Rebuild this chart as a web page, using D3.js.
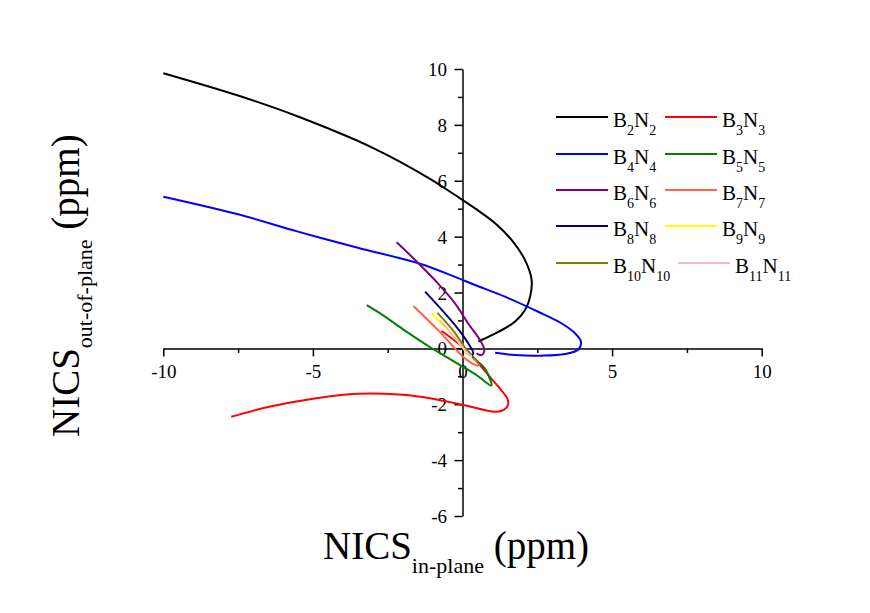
<!DOCTYPE html>
<html>
<head>
<meta charset="utf-8">
<script src="https://cdn.jsdelivr.net/npm/d3@7"></script>
<style>
  body { margin: 0; background: #fff; }
  text { font-family: "Liberation Serif", "Times New Roman", serif; }
</style>
</head>
<body>
<svg id="chart" width="870" height="613"></svg>
<script>
// series names (subscript n for BnNn) and colours
const sizes = [2, 3, 4, 5, 6, 7, 8, 9, 10, 11];
const colors = ["#000000", "#ff0000", "#0000ff", "#008000", "#800080",
                "#ff6347", "#000080", "#ffff00", "#808000", "#ffb6c1"];

// [NICS in-plane, NICS out-of-plane]
const b2n2 = [[-10, 9.85], [-7.5, 9.05], [-5.5, 8.3], [-3, 7.18], [-1.1, 6.08], [-0.25, 5.49],
              [0.42, 5.01], [1.09, 4.48], [1.64, 3.88], [2.09, 3.16], [2.31, 2.45], [2.26, 1.85],
              [2.09, 1.37], [1.75, 0.95], [1.2, 0.59], [0.64, 0.3], [0.53, 0.24]];
const b3n3 = [[-7.73, -2.45], [-6.5, -2.1], [-5, -1.8], [-3.5, -1.62], [-2, -1.66], [-1, -1.8],
              [0, -2.02], [0.7, -2.2], [1.1, -2.27], [1.38, -2.2], [1.52, -2.03], [1.5, -1.8],
              [1.3, -1.5], [0.9, -1.0], [0.5, -0.5], [0.0, 0.05], [-0.7, 0.62]];
const b4n4 = [[-10, 5.43], [-7.5, 4.8], [-5.5, 4.18], [-3.5, 3.6], [-1.42, 3.03], [-0.25, 2.56],
              [0.42, 2.27], [1.42, 1.85], [2.53, 1.31], [3.32, 0.89], [3.76, 0.54], [3.96, 0.24],
              [3.87, -0.04], [3.43, -0.2], [2.65, -0.26], [1.75, -0.24], [1.09, -0.16]];
const b5n5 = [[-3.2, 1.55], [-2.75, 1.25], [-1.9, 0.62], [-1.09, 0.05], [-0.5, -0.33], [0.03, -0.67],
              [0.5, -0.98], [0.97, -1.33], [0.9, -1.05], [0.75, -0.72], [0.47, -0.43], [0.2, -0.15]];
const b6n6 = [[-2.2, 3.8], [-1.59, 3.17], [-0.8, 2.3], [-0.25, 1.61], [0.19, 0.89], [0.58, 0.3],
              [0.73, -0.06], [0.64, -0.24], [0.47, -0.18]];
const b7n7 = [[-1.64, 1.52], [-0.75, 0.58], [0.0, -0.28], [0.4, -0.58], [0.55, -0.6], [0.35, -0.35]];
const b8n8 = [[-1.25, 2.03], [-0.25, 0.83], [0.19, 0.18], [0.36, -0.18], [0.28, -0.25], [0.15, -0.1]];
const b9n9 = [[-1.03, 1.25], [-0.4, 0.55], [0.1, -0.05], [0.3, -0.28], [0.2, -0.24]];
const b10n10 = [[-0.84, 1.27], [-0.3, 0.62], [0.14, -0.05], [0.28, -0.2], [0.15, -0.15]];
const b11n11 = [[-0.75, 1.0], [-0.3, 0.45], [0.1, -0.1], [0.25, -0.25], [0.1, -0.15]];
const series = [b2n2, b3n3, b4n4, b5n5, b6n6, b7n7, b8n8, b9n9, b10n10, b11n11];

const xMajor = [-10, -5, 0, 5, 10];
const xMinor = [-7.5, -2.5, 2.5, 7.5];
const yMajor = [-6, -4, -2, 0, 2, 4, 6, 8, 10];
const yMinor = [-5, -3, -1, 1, 3, 5, 7, 9];

const svg = d3.select("#chart");

const xScale = d3.scaleLinear().domain([-10, 10]).range([163.3, 761.7]);
const yScale = d3.scaleLinear().domain([-6, 10]).range([516, 69]);

const fmt = d => String(d); // plain hyphen minus like the original

// axes cross at the origin
const xAxisG = svg.append("g")
    .attr("transform", `translate(0, ${yScale(0)})`)
    .call(d3.axisBottom(xScale).tickValues(xMajor).tickSize(8).tickSizeOuter(0).tickFormat(fmt));
xAxisG.append("g")
    .call(d3.axisBottom(xScale).tickValues(xMinor).tickSize(4.5).tickFormat(""))
    .select(".domain").remove();

const yAxisG = svg.append("g")
    .attr("transform", `translate(${xScale(0)}, 0)`)
    .call(d3.axisLeft(yScale).tickValues(yMajor).tickSize(8).tickSizeOuter(0).tickFormat(fmt));
yAxisG.append("g")
    .call(d3.axisLeft(yScale).tickValues(yMinor).tickSize(4.5).tickFormat(""))
    .select(".domain").remove();

svg.selectAll(".domain").attr("stroke", "#000").attr("stroke-width", 1.5);
svg.selectAll(".tick line").attr("stroke", "#000").attr("stroke-width", 1.5);

xAxisG.selectAll(".tick text")
    .attr("y", 30).attr("dy", 0)
    .style("font-family", "'Liberation Serif', serif").style("font-size", "19px")
    .attr("fill", "#000");
yAxisG.selectAll(".tick text")
    .attr("x", -15.5).attr("dy", 6.5)
    .style("font-family", "'Liberation Serif', serif").style("font-size", "19px")
    .attr("fill", "#000");

// curves
const line = d3.line()
    .x(d => xScale(d[0]))
    .y(d => yScale(d[1]))
    .curve(d3.curveCatmullRom.alpha(0.5));

svg.append("g")
    .selectAll("path")
    .data(series)
    .join("path")
        .attr("d", line)
        .attr("fill", "none")
        .attr("stroke", (d, i) => colors[i])
        .attr("stroke-width", 2);

// legend, two columns
const legendRows = [117, 154, 190, 226, 263];
const legendItems = sizes.map((n, i) => {
    const row = Math.floor(i / 2), col = i % 2;
    const x0 = col === 0 ? 556 : (row === 4 ? 678 : 665);
    return { n, color: colors[i], x0, y: legendRows[row] };
});

const legend = svg.append("g")
    .selectAll("g")
    .data(legendItems)
    .join("g");

legend.append("line")
    .attr("x1", d => d.x0)
    .attr("x2", d => d.x0 + 52)
    .attr("y1", d => d.y)
    .attr("y2", d => d.y)
    .attr("stroke", d => d.color)
    .attr("stroke-width", 2);

const legendText = legend.append("text")
    .attr("x", d => d.x0 + 57)
    .attr("y", d => d.y + 9.5)
    .attr("font-size", 21)
    .attr("fill", "#000");
legendText.append("tspan").text("B");
legendText.append("tspan").text(d => d.n).attr("font-size", 14).attr("dy", 8);
legendText.append("tspan").text("N").attr("dy", -8);
legendText.append("tspan").text(d => d.n).attr("font-size", 14).attr("dy", 8);

// axis titles
const xTitle = svg.append("text")
    .attr("x", 323)
    .attr("y", 559)
    .attr("font-size", 39)
    .attr("fill", "#000");
xTitle.append("tspan").text("NICS");
xTitle.append("tspan").text("in-plane").attr("font-size", 22).attr("dy", 14);
xTitle.append("tspan").text(" (ppm)").attr("dy", -14);

const yTitle = svg.append("text")
    .attr("transform", "translate(79, 437) rotate(-90)")
    .attr("font-size", 39)
    .attr("fill", "#000");
yTitle.append("tspan").text("NICS");
yTitle.append("tspan").text("out-of-plane").attr("font-size", 22).attr("dy", 13);
yTitle.append("tspan").text(" (ppm)").attr("dy", -13);
</script>
</body>
</html>
